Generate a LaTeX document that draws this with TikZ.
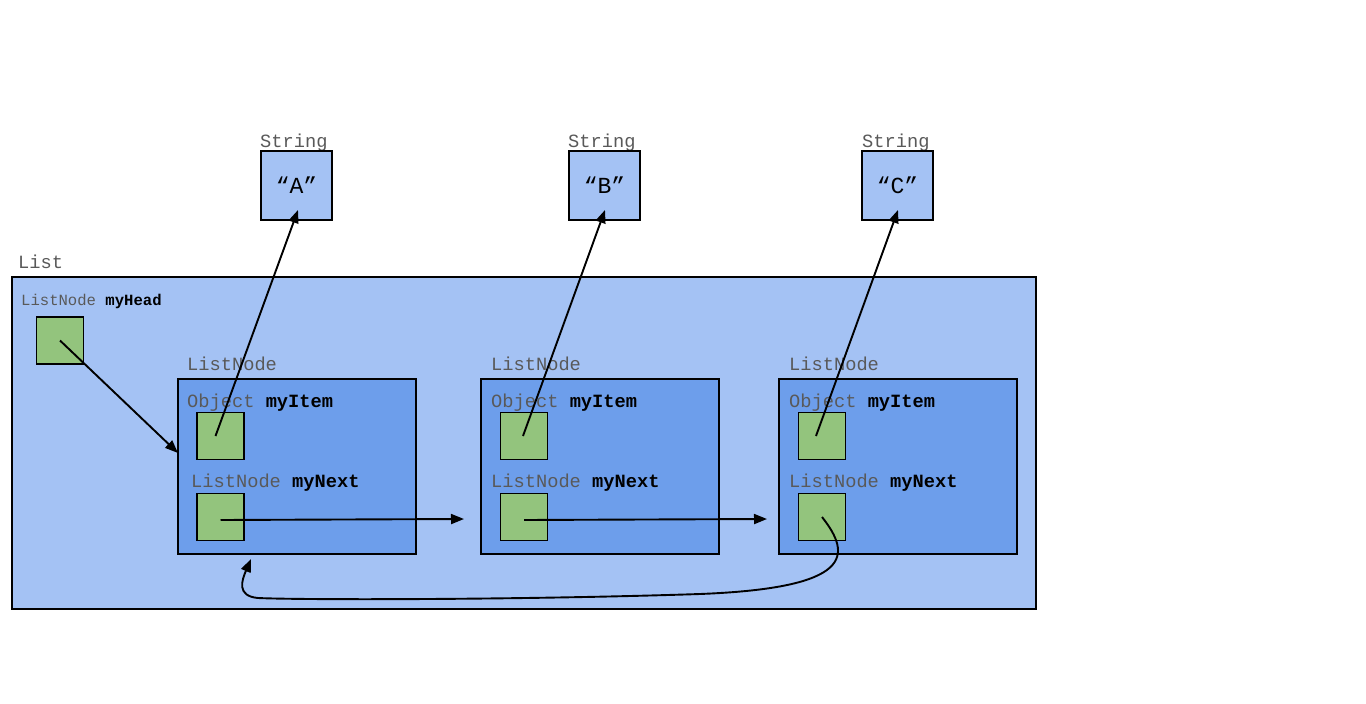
\documentclass[tikz,border=0pt]{standalone}
\usepackage{fontspec}
\setmonofont{Liberation Mono}
\usetikzlibrary{arrows.meta}
\definecolor{listblue}{HTML}{A4C2F4}
\definecolor{nodeblue}{HTML}{6D9EEB}
\definecolor{ptrgreen}{HTML}{93C47D}
\definecolor{typegray}{HTML}{595959}
\tikzset{
	box/.style = {
		rectangle,
		inner sep=0pt,
		draw=black,
		line width=1.3pt
	},
	box_list/.style = {
		box,
		fill=listblue,
		minimum width=1024pt,
		minimum height=332pt
	},
	box_node/.style = {
		box,
		fill=nodeblue,
		minimum width=238pt,
		minimum height=175pt
	},
	box_ptr/.style = {
		box,
		fill=ptrgreen,
		minimum width=47pt,
		minimum height=47pt
	},
	box_str/.style = {
		box,
		fill=listblue,
		minimum width=71pt,
		minimum height=69pt,
		font=\ttfamily\fontsize{23}{23}\selectfont
	},
	lbl/.style = {
		anchor=base west,
		inner sep=0pt,
		text=typegray,
		font=\ttfamily\fontsize{18.7}{20}\selectfont
	},
	lbl_small/.style = {
		lbl,
		font=\ttfamily\fontsize{15.6}{17}\selectfont
	},
}
\newcommand{\varname}[1]{\textcolor{black}{\bfseries #1}}

\begin{document}
\begin{tikzpicture}[x=1pt, y=-1pt, >={Triangle[length=13pt,width=10pt]}, ptr/.style={->, line width=1.9pt}]
\useasboundingbox[fill=white] (0,0) rectangle (1366,704);

\node [lbl] (lbl_list) at (18,268) {List};
\node [box_list] (list) at (524,443) {};
\node [lbl_small] (lbl_head) at (21,305) {ListNode \varname{myHead}};
\node [box_ptr] (head) at (60,340.5) {};

\node [box_node] (n1) at (297,466.5) {};
\node [box_node] (n2) at (600,466.5) {};
\node [box_node] (n3) at (898,466.5) {};

\node [lbl] (lbl_n1) at (187,370) {ListNode};
\node [lbl] (lbl_n2) at (491,370) {ListNode};
\node [lbl] (lbl_n3) at (789,370) {ListNode};

\node [lbl] (lbl_item1) at (187,407) {Object \varname{myItem}};
\node [lbl] (lbl_item2) at (491,407) {Object \varname{myItem}};
\node [lbl] (lbl_item3) at (789,407) {Object \varname{myItem}};

\node [lbl] (lbl_next1) at (191,487) {ListNode \varname{myNext}};
\node [lbl] (lbl_next2) at (491,487) {ListNode \varname{myNext}};
\node [lbl] (lbl_next3) at (789,487) {ListNode \varname{myNext}};

\node [box_ptr] (item1) at (220.5,436) {};
\node [box_ptr] (item2) at (524,436) {};
\node [box_ptr] (item3) at (822,436) {};
\node [box_ptr] (next1) at (220.5,517) {};
\node [box_ptr] (next2) at (524,517) {};
\node [box_ptr] (next3) at (822,517) {};

\node [lbl] (lbl_str1) at (260,147) {String};
\node [lbl] (lbl_str2) at (568,147) {String};
\node [lbl] (lbl_str3) at (862,147) {String};
\node [box_str] (str1) at (296.5,185.5) {“A”};
\node [box_str] (str2) at (604.5,185.5) {“B”};
\node [box_str] (str3) at (897.5,185.5) {“C”};

\coordinate (tip_head) at (178,453);
\coordinate (tip_str1) at (298,210);
\coordinate (tip_str2) at (605,210);
\coordinate (tip_str3) at (898,210);
\coordinate (tip_n2) at (464,519);
\coordinate (tip_n3) at (767,519);
\coordinate (tip_n1) at (251,559);

\draw [ptr] (head.center) -- (tip_head);
\draw [ptr] ([xshift=-5pt]item1.center) -- (tip_str1);
\draw [ptr] ([xshift=-1pt]item2.center) -- (tip_str2);
\draw [ptr] ([xshift=-6pt]item3.center) -- (tip_str3);
\draw [ptr] ([yshift=-3pt]next1.center) -- (tip_n2);
\draw [ptr] ([yshift=-3pt]next2.center) -- (tip_n3);
\draw [ptr] (next3.center) .. controls (852,555) and (854,588) .. (700,594)
	.. controls (520,600) and (300,600) .. (258,598)
	.. controls (236,596) and (242,580) .. (tip_n1);
\end{tikzpicture}
\end{document}
